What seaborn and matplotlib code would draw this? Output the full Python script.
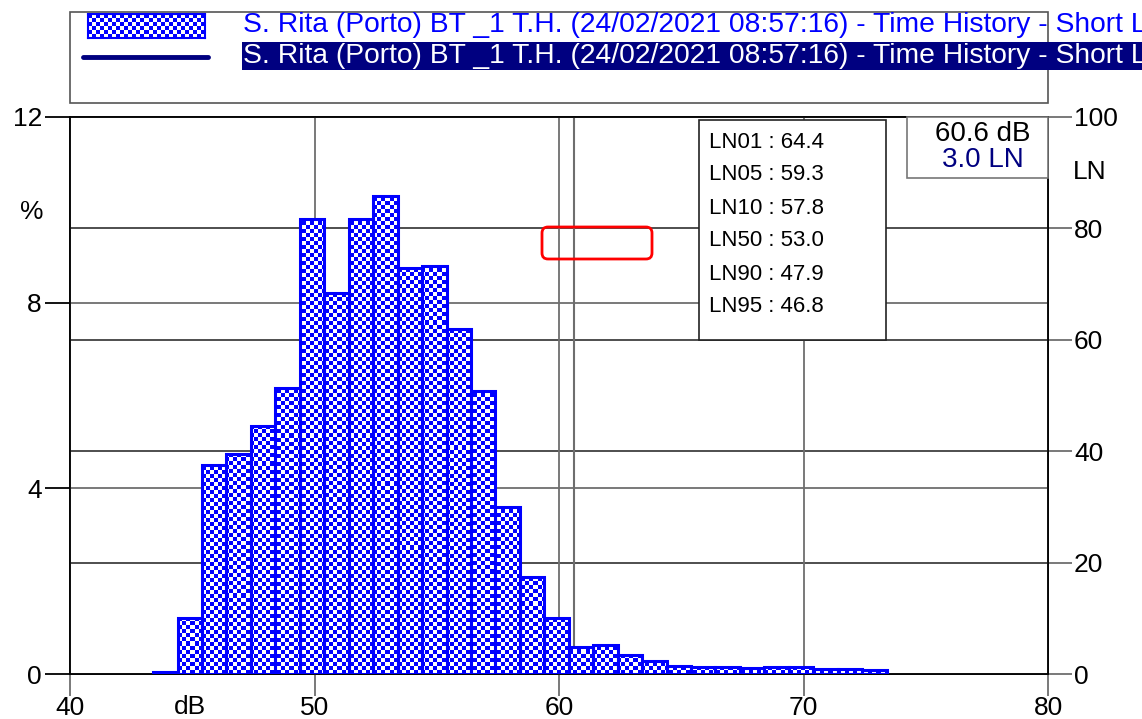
import numpy as np
import matplotlib
matplotlib.use("Agg")
import matplotlib.pyplot as plt
import matplotlib.transforms as mtransforms
from matplotlib.patches import Rectangle, FancyBboxPatch
from matplotlib.lines import Line2D
import seaborn as sns

# 1 dB classes, edges and share of time in each class (%)
bin_edges = [43.4, 44.4, 45.4, 46.4, 47.4, 48.4, 49.4, 50.4, 51.4, 52.4, 53.4,
             54.4, 55.4, 56.4, 57.4, 58.4, 59.4, 60.4, 61.4, 62.4, 63.4, 64.4,
             65.4, 66.4, 67.4, 68.4, 69.4, 70.4, 71.4, 72.4, 73.4]
pct = [0.05, 1.21, 4.50, 4.74, 5.34, 6.16, 9.80, 8.20, 9.80, 10.29, 8.75,
       8.79, 7.43, 6.10, 3.59, 2.10, 1.20, 0.59, 0.62, 0.40, 0.27, 0.18,
       0.16, 0.15, 0.13, 0.16, 0.16, 0.10, 0.11, 0.09]

ln_names = ["LN01", "LN05", "LN10", "LN50", "LN90", "LN95"]
ln_values = [64.4, 59.3, 57.8, 53.0, 47.9, 46.8]
cursor_db = 60.6
cursor_ln = 3.0

x_ticks = [40, 50, 60, 70, 80]
pct_ticks = [0, 4, 8, 12]
ln_ticks = [0, 20, 40, 60, 80, 100]

series_label = "S. Rita (Porto) BT _1 T.H. (24/02/2021 08:57:16) - Time History - Short L"

BLUE = "#0000FF"
NAVY = "#000080"
GRID = "#6e6e6e"
PT = 0.72  # points per pixel at 100 dpi

sns.set_theme(style="white")
plt.rcParams["font.family"] = ["Liberation Sans", "DejaVu Sans"]
plt.rcParams["text.color"] = "black"

W, H = 1142, 719
fig = plt.figure(figsize=(W / 100, H / 100), dpi=100)
fig.patch.set_facecolor("white")
# pixel coordinates, origin top-left
pix = mtransforms.Affine2D().scale(1 / W, -1 / H).translate(0, 1) + fig.transFigure

ax = fig.add_axes([70 / W, 1 - 674 / H, 978 / W, 557 / H])
ax2 = ax.twinx()
ax.set_zorder(ax2.get_zorder() + 1)
ax.patch.set_visible(False)

centers = [(a + b) / 2 for a, b in zip(bin_edges[:-1], bin_edges[1:])]
sns.histplot(x=centers, weights=pct, bins=bin_edges, fill=False,
             color=BLUE, linewidth=2.2, ax=ax)
bars = list(ax.patches)
for b in bars:
    b.set_zorder(3)
    b.set_alpha(1)

# checkered fill, clipped to each bar
ny, nx = 139, 245
cells = np.indices((ny, nx)).sum(axis=0) % 2
checker = np.ones((ny, nx, 3))
checker[cells == 0] = [0, 0, 1]
for b in bars:
    im = ax.imshow(checker, extent=(0, 1, 0, 1), transform=ax.transAxes,
                   interpolation="nearest", aspect="auto", zorder=2)
    im.set_clip_path(b)

ax.set_xlim(40, 80)
ax.set_ylim(0, 12)
ax.set_xticks(x_ticks)
ax.set_yticks(pct_ticks)
ax.set_xlabel("")
ax.set_ylabel("")
ax.grid(True, color=GRID, linewidth=1.3, zorder=1)
ax.set_axisbelow(True)
ax.axvline(cursor_db, color=GRID, linewidth=1.5, zorder=1.5)

ax2.set_ylim(0, 100)
ax2.set_yticks(ln_ticks)
ax2.grid(True, axis="y", color="#303030", linewidth=1.2)
ax2.grid(False, axis="x")

for a in (ax, ax2):
    for s in a.spines.values():
        s.set_color("black")
        s.set_linewidth(1.2)

ax.tick_params(axis="x", direction="out", length=22 * PT, width=1.3, color=GRID,
               labelsize=19, pad=0, bottom=True, labelcolor="black")
ax.tick_params(axis="y", direction="out", length=25 * PT, width=1.3, color="black",
               labelsize=19, pad=3 * PT, left=True, labelcolor="black")
ax2.tick_params(axis="y", direction="out", length=24 * PT, width=1.3, color=GRID,
                labelsize=19, pad=2 * PT, right=True, labelcolor="black")

fig.text(32, 212, "%", transform=pix, ha="center", va="center", fontsize=19)
fig.text(190, 707, "dB", transform=pix, ha="center", va="center", fontsize=19)
fig.text(1090, 172, "LN", transform=pix, ha="center", va="center", fontsize=19)

# legend block
fig.add_artist(Rectangle((70, 12), 978, 91, transform=pix, fill=False,
                         edgecolor="#555555", linewidth=1.2))
lax = fig.add_axes([88 / W, 1 - 38 / H, 117 / W, 24 / H])
lny, lnx = 6, 29
lcells = np.indices((lny, lnx)).sum(axis=0) % 2
lcheck = np.ones((lny, lnx, 3))
lcheck[lcells == 0] = [0, 0, 1]
lax.imshow(lcheck, aspect="auto", interpolation="nearest")
lax.set_xticks([])
lax.set_yticks([])
for s in lax.spines.values():
    s.set_color(BLUE)
    s.set_linewidth(1.5)
fig.add_artist(Line2D([83, 208], [57, 57], transform=pix, color=NAVY, linewidth=3.5))
fig.text(243, 25, series_label, transform=pix, color=BLUE, fontsize=20.3,
         ha="left", va="center")
fig.text(243, 56, series_label, transform=pix, color="white", fontsize=20.3,
         ha="left", va="center",
         bbox=dict(facecolor=NAVY, edgecolor="none", pad=1))

# LN statistics box
fig.add_artist(Rectangle((699, 120), 187, 220, transform=pix, facecolor="white",
                         edgecolor="#222222", linewidth=1.2, zorder=10))
for i, (n, v) in enumerate(zip(ln_names, ln_values)):
    fig.text(709, 142 + 33 * i, f"{n} : {v:.1f}", transform=pix, fontsize=16,
             ha="left", va="center", color="black", zorder=11)

# cursor readout
fig.add_artist(Rectangle((907, 117), 141, 61, transform=pix, facecolor="white",
                         edgecolor="#777777", linewidth=1.2, zorder=10))
fig.text(983, 134, f"{cursor_db:.1f} dB", transform=pix, fontsize=20,
         ha="center", va="center", color="black", zorder=11)
fig.text(983, 160, f"{cursor_ln:.1f} LN", transform=pix, fontsize=20,
         ha="center", va="center", color=NAVY, zorder=11)

fig.add_artist(FancyBboxPatch((542, 227), 110, 32,
                              boxstyle="round,pad=0,rounding_size=6",
                              transform=pix, facecolor="none", edgecolor="red",
                              linewidth=2, zorder=10))

fig.savefig("out.png", dpi=100)
